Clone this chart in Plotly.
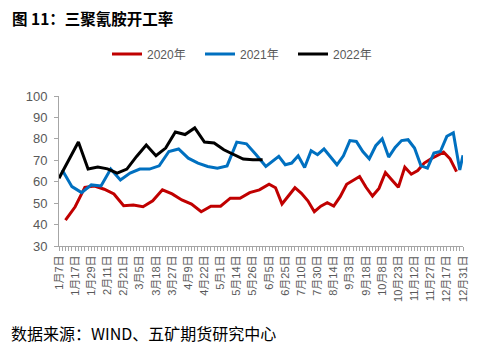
import plotly.graph_objects as go

categories = [
    "1月7日", "1月9日", "1月10日", "1月14日", "1月16日",
    "1月17日", "1月21日", "1月23日", "1月24日", "1月28日",
    "1月29日", "2月4日", "2月5日", "2月6日", "2月10日",
    "2月11日", "2月13日", "2月14日", "2月18日", "2月20日",
    "2月21日", "2月25日", "2月27日", "2月28日", "3月4日",
    "3月5日", "3月6日", "3月11日", "3月12日", "3月13日",
    "3月18日", "3月19日", "3月20日", "3月25日", "3月26日",
    "3月27日", "4月1日", "4月2日", "4月3日", "4月8日",
    "4月9日", "4月10日", "4月15日", "4月16日", "4月17日",
    "4月22日", "4月23日", "4月24日", "4月29日", "4月30日",
    "5月1日", "5月6日", "5月7日", "5月8日", "5月13日",
    "5月14日", "5月15日", "5月20日", "5月21日", "5月22日",
    "5月26日", "5月28日", "5月29日", "6月3日", "6月4日",
    "6月5日", "6月11日", "6月12日", "6月18日", "6月19日",
    "6月25日", "6月26日", "7月2日", "7月3日", "7月9日",
    "7月10日", "7月16日", "7月17日", "7月23日", "7月24日",
    "7月30日", "7月31日", "8月6日", "8月7日", "8月13日",
    "8月14日", "8月20日", "8月21日", "8月27日", "8月28日",
    "9月3日", "9月4日", "9月10日", "9月11日", "9月17日",
    "9月18日", "9月24日", "9月25日", "9月30日", "10月1日",
    "10月8日", "10月9日", "10月15日", "10月16日", "10月22日",
    "10月23日", "10月29日", "10月30日", "11月5日", "11月6日",
    "11月12日", "11月13日", "11月19日", "11月20日", "11月26日",
    "11月27日", "12月3日", "12月4日", "12月10日", "12月11日",
    "12月17日", "12月18日", "12月24日", "12月25日", "12月30日",
    "12月31日",
]

tick_labels = [
    "1月7日", "1月17日", "1月29日", "2月11日", "2月21日", "3月5日", "3月18日",
    "3月27日", "4月9日", "4月22日", "5月1日", "5月14日", "5月26日", "6月5日",
    "6月25日", "7月10日", "7月30日", "8月14日", "9月3日", "9月18日", "10月8日",
    "10月23日", "11月12日", "11月27日", "12月17日", "12月31日",
]

N = None
# 2020年 (values aligned to categories; None = no observation on that date)
y2020 = [
    N, N, 42.1, N, N, 48.3, N, N, 57.4, N,
    N, 58.0, N, N, 56.5, N, N, 54.3, N, N,
    48.8, N, N, 49.1, N, N, 48.3, N, N, 51.1,
    N, N, 56.2, N, N, 54.3, N, N, 51.5, N,
    N, 49.6, N, N, 46.0, N, N, 48.6, N, N,
    48.6, N, N, 52.3, N, N, 52.3, N, N, 54.9,
    N, N, 56.2, N, N, 58.8, N, 57.2, N, 49.6,
    N, N, N, 57.2, N, 54.6, N, 51.1, N, 46.0,
    N, 48.6, N, 50.2, N, 48.6, N, 53.0, N, 58.8,
    N, 60.5, N, 62.4, N, 57.4, N, 53.3, N, 56.9,
    N, 64.3, N, 60.8, N, 57.4, N, 66.8, N, 63.5,
    N, 65.2, N, 68.7, N, 70.6, N, 72.3, N, 73.8,
    N, 70.7, N, 64.7, N, N,
]
# 2021年
y2021 = [
    N, 65.5, N, N, 57.7, N, N, 54.9, N, N,
    58.5, N, N, 58.0, N, N, 65.9, N, N, 60.8,
    N, N, 64.0, N, N, 65.9, N, N, 65.9, N,
    N, 67.4, N, N, 74.1, N, N, 75.3, N, N,
    71.0, N, N, 68.7, N, N, 67.1, N, N, 66.3,
    N, N, 67.4, N, N, 78.5, N, N, 77.7, N,
    N, 72.6, N, N, 67.1, N, N, N, 71.8, N,
    67.9, N, 68.7, N, 72.1, N, 66.6, N, 74.5, N,
    72.6, N, 75.3, N, N, N, 67.9, N, 72.1, N,
    79.2, N, 78.8, N, 74.1, N, 70.7, N, 76.8, N,
    80.0, N, 71.5, N, 76.0, N, 79.2, N, 79.6, N,
    75.7, N, 67.4, N, 66.3, N, 73.4, N, 74.1, N,
    81.2, N, 82.8, N, 65.5, 72.3,
]
# 2022年
y2022 = [
    61.6, N, N, 70.2, N, N, 78.5, N, N, 65.9,
    N, N, 66.8, N, N, 66.0, N, N, 64.0, N,
    N, 65.9, N, N, 71.8, N, N, 77.1, N, N,
    72.1, N, N, 75.7, N, N, 83.2, N, N, 82.0,
    N, N, 85.1, N, N, 78.5, N, N, 78.1, N,
    N, 74.9, N, N, 72.6, N, N, 70.6, N, N,
    70.2, N, N, 70.2,
]

series = [
    ("2020年", y2020, "#C00000"),
    ("2021年", y2021, "#0070C0"),
    ("2022年", y2022, "#000000"),
]

fig = go.Figure()
for name, vals, color in series:
    xs = [c for c, v in zip(categories, vals) if v is not None]
    ys = [v for v in vals if v is not None]
    fig.add_trace(go.Scatter(
        x=xs, y=ys, name=name, mode="lines",
        line=dict(color=color, width=3),
    ))

ticktext = [c if c in tick_labels else "" for c in categories]
font_fam = "Liberation Sans, Arial, Noto Sans CJK SC, sans-serif"

W, H = 476, 353  # page body has an 8px margin

fig.update_layout(
    width=W, height=H,
    margin=dict(l=51, r=21, t=88, b=115, autoexpand=False),
    paper_bgcolor="white", plot_bgcolor="white",
    font=dict(family=font_fam, color="#595959"),
    showlegend=True,
    legend=dict(
        orientation="h", xref="container", yref="container",
        x=99 / W, y=1 - 46 / H, xanchor="left", yanchor="middle",
        font=dict(size=12, color="#595959"),
        itemwidth=30, entrywidth=48, tracegroupgap=0,
        bgcolor="rgba(0,0,0,0)",
    ),
    title=dict(
        text="<b>图 11：三聚氰胺开工率</b>",
        xref="container", yref="container",
        x=4 / W, y=1 - 11.5 / H, xanchor="left", yanchor="middle",
        pad=dict(t=0, b=0, l=0, r=0),
        font=dict(size=15.5, color="#000000", family="Noto Sans CJK SC, Liberation Sans, sans-serif"),
    ),
    annotations=[dict(
        text="数据来源：WIND、五矿期货研究中心",
        xref="paper", yref="paper",
        x=(1 - 51) / 404, y=-87 / 150,
        xanchor="left", yanchor="middle", showarrow=False,
        font=dict(size=16, color="#000000", family="Noto Sans CJK SC, sans-serif"),
    )],
)

fig.update_xaxes(
    type="category", categoryorder="array", categoryarray=categories,
    range=[0, len(categories) - 1],
    tickmode="array", tickvals=categories, ticktext=ticktext,
    tickangle=-90, tickfont=dict(size=11, color="#595959"),
    ticks="outside", ticklen=4, tickcolor="#A6A6A6", tickwidth=1,
    showline=True, linecolor="#A6A6A6", linewidth=1,
    showgrid=False, zeroline=False, automargin=False,
)
fig.update_yaxes(
    range=[30, 100], dtick=10, tick0=30,
    tickfont=dict(size=13, color="#595959"),
    ticks="outside", ticklen=4, tickcolor="#A6A6A6", tickwidth=1,
    ticklabelstandoff=4,
    showline=True, linecolor="#A6A6A6", linewidth=1,
    showgrid=False, zeroline=False, automargin=False,
)

fig.write_html("out.html")
